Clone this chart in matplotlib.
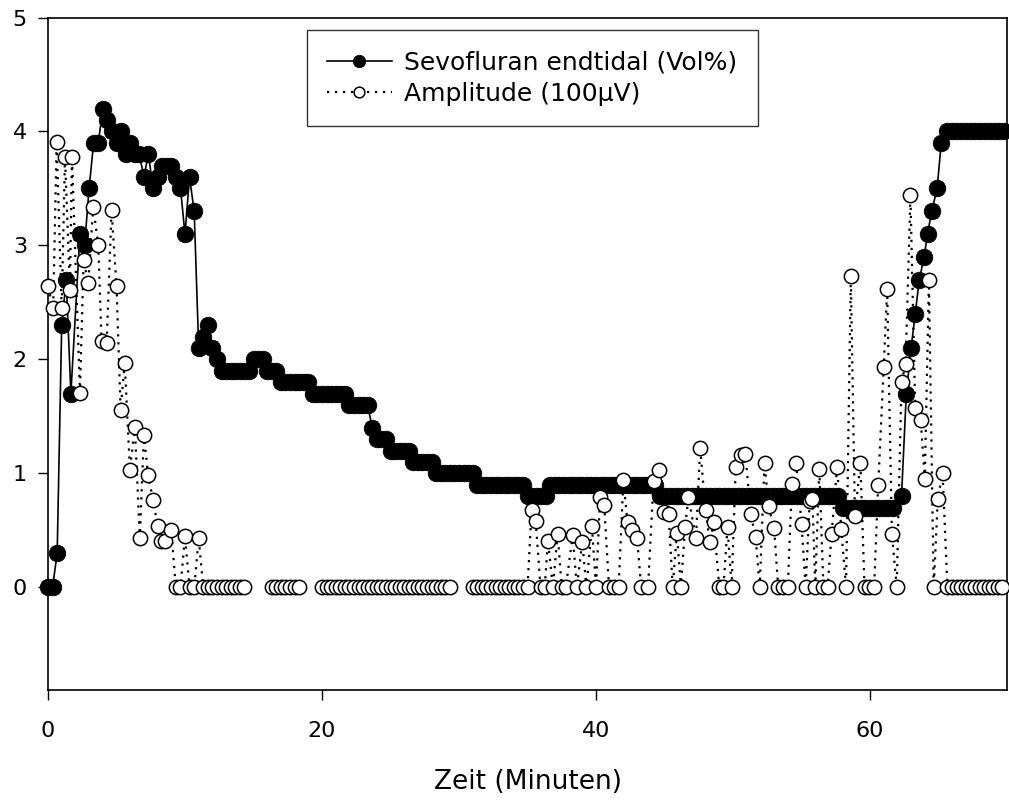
import matplotlib
matplotlib.use("Agg")
import matplotlib.pyplot as plt

nan = float("nan")

# ---- Sevofluran endtidal (Vol%) ----
sevo_time = [
    0.00, 0.33, 0.67, 1.00, 1.33, 1.67, 2.33, 2.67, 3.00, 3.33, 3.67,
    4.00, 4.33, 4.67, 5.00, 5.33, 5.67, 6.00, 6.33, 6.67, 7.00, 7.33, 7.67,
    8.00, 8.33, 8.67, 9.00, 9.33, 9.67, 10.00, 10.33, 10.67, 11.00, 11.33, 11.67,
    12.00, 12.33, 12.67, 13.00, 13.33, 13.67, 14.00, 14.33, 14.67, 15.00, 15.33, 15.67,
    16.00, 16.33, 16.67, 17.00, 17.33, 17.67, 18.00, 18.33, 18.67, 19.00, 19.33, 19.67,
    20.00, 20.33, 20.67, 21.00, 21.33, 21.67, 22.00, 22.33, 22.67, 23.00, 23.33, 23.67,
    24.00, 24.33, 24.67, 25.00, 25.33, 25.67, 26.00, 26.33, 26.67, 27.00, 27.33, 27.67,
    28.00, 28.33, 28.67, 29.00, 29.33, 29.67, 30.00, 30.33, 30.67, 31.00, 31.33, 31.67,
    32.00, 32.33, 32.67, 33.00, 33.33, 33.67, 34.00, 34.33, 34.67, 35.00, 35.33, 35.67,
    36.00, 36.33, 36.67, 37.00, 37.33, 37.67, 38.00, 38.33, 38.67, 39.00, 39.33, 39.67,
    40.00, 40.33, 40.67, 41.00, 41.33, 41.67, 42.00, 42.33, 42.67, 43.00, 43.33, 43.67,
    44.00, 44.33, 44.67, 45.00, 45.33, 45.67, 46.00, 46.33, 46.67, 47.00, 47.33, 47.67,
    48.00, 48.33, 48.67, 49.00, 49.33, 49.67, 50.00, 50.33, 50.67, 51.00, 51.33, 51.67,
    52.00, 52.33, 52.67, 53.00, 53.33, 53.67, 54.00, 54.33, 54.67, 55.00, 55.33, 55.67,
    56.00, 56.33, 56.67, 57.00, 57.33, 57.67, 58.00, 58.33, 58.67, 59.00, 59.33, 59.67,
    60.00, 60.33, 60.67, 61.00, 61.33, 61.67, 62.30, 62.65, 63.00, 63.30, 63.60, 63.95,
    64.20, 64.50, 64.90, 65.20, 65.60, 65.95, 66.30, 66.65, 67.00, 67.35, 67.70, 68.05,
    68.40, 68.75, 69.10, 69.45, 69.75,
]
sevo_value = [
    0.0, 0.0, 0.3, 2.3, 2.7, 1.7, 3.1, 3.0, 3.5, 3.9, 3.9,
    4.2, 4.1, 4.0, 3.9, 4.0, 3.8, 3.9, 3.8, 3.8, 3.6, 3.8, 3.5,
    3.6, 3.7, 3.7, 3.7, 3.6, 3.5, 3.1, 3.6, 3.3, 2.1, 2.2, 2.3,
    2.1, 2.0, 1.9, 1.9, 1.9, 1.9, 1.9, 1.9, 1.9, 2.0, 2.0, 2.0,
    1.9, 1.9, 1.9, 1.8, 1.8, 1.8, 1.8, 1.8, 1.8, 1.8, 1.7, 1.7,
    1.7, 1.7, 1.7, 1.7, 1.7, 1.7, 1.6, 1.6, 1.6, 1.6, 1.6, 1.4,
    1.3, 1.3, 1.3, 1.2, 1.2, 1.2, 1.2, 1.2, 1.1, 1.1, 1.1, 1.1,
    1.1, 1.0, 1.0, 1.0, 1.0, 1.0, 1.0, 1.0, 1.0, 1.0, 0.9, 0.9,
    0.9, 0.9, 0.9, 0.9, 0.9, 0.9, 0.9, 0.9, 0.9, 0.8, 0.8, 0.8,
    0.8, 0.8, 0.9, 0.9, 0.9, 0.9, 0.9, 0.9, 0.9, 0.9, 0.9, 0.9,
    0.9, 0.9, 0.9, 0.9, 0.9, 0.9, 0.9, 0.9, 0.9, 0.9, 0.9, 0.9,
    0.9, 0.9, 0.8, 0.8, 0.8, 0.8, 0.8, 0.8, 0.8, 0.8, 0.8, 0.8,
    0.8, 0.8, 0.8, 0.8, 0.8, 0.8, 0.8, 0.8, 0.8, 0.8, 0.8, 0.8,
    0.8, 0.8, 0.8, 0.8, 0.8, 0.8, 0.8, 0.8, 0.8, 0.8, 0.8, 0.8,
    0.8, 0.8, 0.8, 0.8, 0.8, 0.8, 0.7, 0.7, 0.7, 0.7, 0.7, 0.7,
    0.7, 0.7, 0.7, 0.7, 0.7, 0.7, 0.8, 1.7, 2.1, 2.4, 2.7, 2.9,
    3.1, 3.3, 3.5, 3.9, 4.0, 4.0, 4.0, 4.0, 4.0, 4.0, 4.0, 4.0,
    4.0, 4.0, 4.0, 4.0, 4.0,
]

# ---- Amplitude (100 µV) ----
amp_time = [
    0.00, 0.38, 0.63, 1.00, 1.24, 1.60, 1.75, 2.33, 2.60, 2.94, 3.30, 3.67,
    3.91, 4.28, 4.64, 5.00, 5.30, 5.60, 5.98, 6.34, 6.70, 7.00, 7.30, 7.67,
    8.00, 8.24, 8.53, 9.00, 9.33, 9.67, 10.00, 10.33, 10.67, 11.00, 11.33, 11.67,
    12.00, 12.33, 12.67, 13.00, 13.33, 13.67, 14.00, 14.33, 14.67,
    16.33, 16.67, 17.00, 17.33, 17.67, 18.00, 18.33, 18.67,
    20.00, 20.33, 20.67, 21.00, 21.33, 21.67, 22.00, 22.33, 22.67, 23.00, 23.33, 23.67,
    24.00, 24.33, 24.67, 25.00, 25.33, 25.67, 26.00, 26.33, 26.67, 27.00, 27.33, 27.67,
    28.00, 28.33, 28.67, 29.00, 29.33, 29.67,
    31.00, 31.33, 31.67, 32.00, 32.33, 32.67, 33.00, 33.33, 33.67, 34.00, 34.33, 34.67, 35.00,
    35.30, 35.60, 35.95, 36.25, 36.50, 36.85, 37.20, 37.50, 37.80, 38.30, 38.60, 39.00,
    39.30, 39.70, 40.00, 40.30, 40.60, 40.95, 41.30, 41.65, 42.00, 42.30, 42.60, 43.00,
    43.30, 43.80, 44.20, 44.60, 44.97, 45.30, 45.60, 45.90, 46.20, 46.50, 46.75, 47.30,
    47.60, 48.00, 48.30, 48.60, 49.00, 49.30, 49.60, 49.90, 50.20, 50.55, 50.90, 51.30,
    51.65, 51.95, 52.30, 52.60, 53.00, 53.30, 53.65, 54.00, 54.30, 54.60, 55.00, 55.30,
    55.60, 55.80, 56.00, 56.30, 56.60, 56.90, 57.20, 57.60, 57.90, 58.25, 58.60, 58.90,
    59.30, 59.60, 59.90, 60.30, 60.60, 61.00, 61.25, 61.60, 61.95, 62.30, 62.60, 62.95,
    63.30, 63.70, 64.00, 64.30, 64.65, 64.95, 65.30, 65.65, 66.00, 66.33, 66.67, 67.00,
    67.33, 67.67, 68.00, 68.33, 68.67, 69.00, 69.33, 69.67,
]
amp_value = [
    2.64, 2.45, 3.91, 2.45, 3.78, 2.61, 3.78, 1.71, 2.87, 2.67, 3.34, 3.00,
    2.16, 2.14, 3.31, 2.64, 1.56, 1.97, 1.03, 1.41, 0.43, 1.34, 0.99, 0.77,
    0.54, 0.41, 0.41, 0.50, 0.0, 0.0, 0.45, 0.0, 0.0, 0.43, 0.0, 0.0,
    0.0, 0.0, 0.0, 0.0, 0.0, 0.0, 0.0, 0.0, nan,
    0.0, 0.0, 0.0, 0.0, 0.0, 0.0, 0.0, nan,
    0.0, 0.0, 0.0, 0.0, 0.0, 0.0, 0.0, 0.0, 0.0, 0.0, 0.0, 0.0,
    0.0, 0.0, 0.0, 0.0, 0.0, 0.0, 0.0, 0.0, 0.0, 0.0, 0.0, 0.0,
    0.0, 0.0, 0.0, 0.0, 0.0, nan,
    0.0, 0.0, 0.0, 0.0, 0.0, 0.0, 0.0, 0.0, 0.0, 0.0, 0.0, 0.0, 0.0,
    0.68, 0.58, 0.0, 0.0, 0.41, 0.0, 0.47, 0.0, 0.0, 0.46, 0.0, 0.40,
    0.0, 0.54, 0.0, 0.79, 0.72, 0.0, 0.0, 0.0, 0.94, 0.57, 0.50, 0.43,
    0.0, 0.0, 0.93, 1.03, 0.66, 0.64, 0.0, 0.48, 0.0, 0.53, 0.79, 0.43,
    1.22, 0.68, 0.40, 0.57, 0.0, 0.0, 0.53, 0.0, 1.06, 1.16, 1.17, 0.64,
    0.44, 0.0, 1.09, 0.71, 0.52, 0.0, 0.0, 0.0, 0.91, 1.09, 0.56, 0.0,
    0.76, 0.78, 0.0, 1.04, 0.0, 0.0, 0.47, 1.06, 0.51, 0.0, 2.73, 0.63,
    1.09, 0.0, 0.0, 0.0, 0.90, 1.93, 2.62, 0.47, 0.0, 1.80, 1.96, 3.44,
    1.57, 1.47, 0.95, 2.70, 0.0, 0.78, 1.00, 0.0, 0.0, 0.0, 0.0, 0.0,
    0.0, 0.0, 0.0, 0.0, 0.0, 0.0, 0.0, 0.0,
]

x_ticks = [0, 20, 40, 60]
y_ticks = [0, 1, 2, 3, 4, 5]

plt.rcParams["font.family"] = ["DejaVu Sans"]

W, H = 1009, 807
fig = plt.figure(figsize=(W / 100, H / 100), dpi=100)
ax = fig.add_axes([48 / W, 1 - 690 / H, (1007 - 48) / W, (690 - 17.5) / H])

ax.plot(sevo_time, sevo_value, linestyle="-", color="black", linewidth=1.2,
        marker="o", markersize=12, markerfacecolor="black",
        markeredgecolor="black", markeredgewidth=0.5, clip_on=False,
        zorder=2, label="Sevofluran endtidal (Vol%)")
ax.plot(amp_time, amp_value, linestyle=(0, (1, 2.6)), color="black", linewidth=1.6,
        marker="o", markersize=10.3, markerfacecolor="white",
        markeredgecolor="black", markeredgewidth=1.1, clip_on=False,
        zorder=3, label="Amplitude (100\u00b5V)")

ax.set_xlim(0, 70)
ax.set_ylim(-0.9, 5)
ax.set_xticks(x_ticks)
ax.set_yticks(y_ticks)
ax.tick_params(direction="out", length=7.2, width=1.0, labelsize=16,
               top=False, right=False)
ax.tick_params(axis="x", pad=15)
ax.tick_params(axis="y", pad=8)
for s in ax.spines.values():
    s.set_linewidth(1.2)
    s.set_zorder(1)

ax.set_xlabel("Zeit (Minuten)", fontsize=19, labelpad=20)

leg = ax.legend(loc="upper left", bbox_to_anchor=(0.270, 0.981),
                borderaxespad=0, fontsize=18, frameon=True, fancybox=False,
                edgecolor="black", handlelength=2.6, handletextpad=0.5,
                labelspacing=0.3, borderpad=0.8, markerscale=0.75)
leg.get_frame().set_linewidth(1.0)

fig.savefig("out.png", dpi=100)
